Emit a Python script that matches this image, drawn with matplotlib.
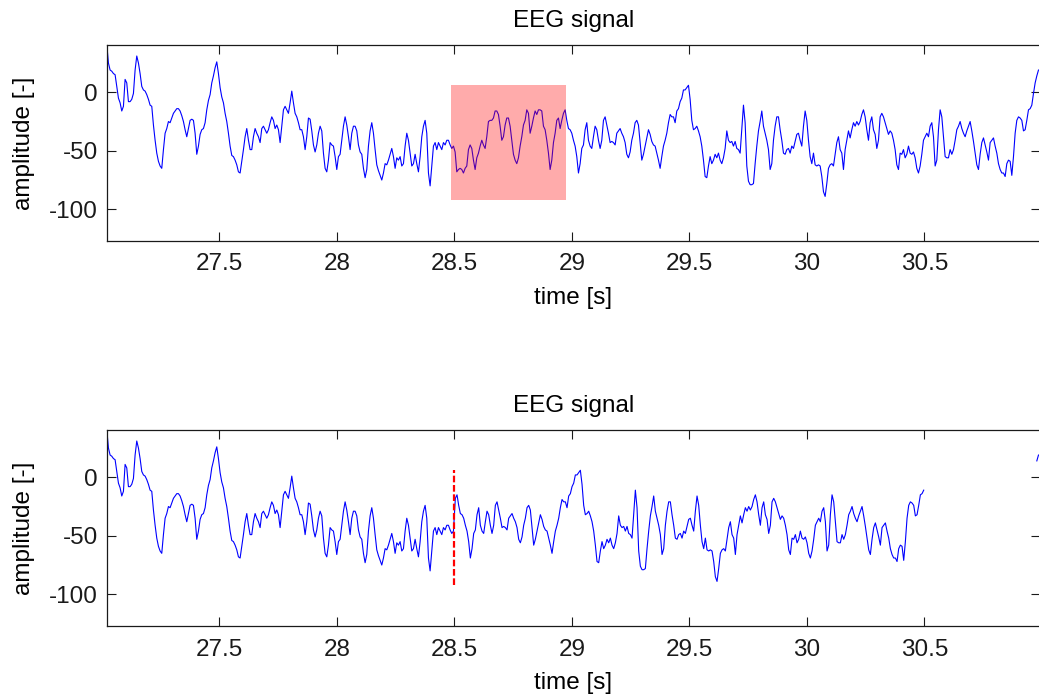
import numpy as np
import matplotlib
matplotlib.use("Agg")
import matplotlib.pyplot as plt
from matplotlib.patches import Rectangle

# Recording: sampling rate [Hz] and time of the first sample [s]
FS = 141.0
T0 = 27.021

# EEG amplitude samples, in consecutive blocks
amp_a = [41, 25, 19, 18, 16, 15, 5, -5, -9, -16,
         -12, 11, 8, -8, -8, -6, -1, 19, 31, 25,
         16, 5, 2, 1, -2, -6, -11, -12, -28, -41,
         -52, -59, -63, -65, -49, -35, -31, -25, -26, -22,
         -18, -16, -14, -14, -16, -20, -25, -32, -38, -31,
         -24, -23, -24, -35, -53, -46, -36, -32, -31, -26,
         -15, -7, -2, 8, 14, 21, 26, 16, 4, -4,
         -9, -18, -25, -35, -46, -54, -55, -58, -62, -68,
         -69, -59, -49, -38, -31, -41, -49, -49, -38, -31,
         -35, -38, -43, -31, -29, -32, -35, -32, -26, -21,
         -24, -31, -28, -32, -43, -29, -15, -12, -15, -18,
         -9, 1, -9, -18, -21, -26, -32, -32, -38, -49,
         -38, -22, -23, -33, -45, -51, -45, -35, -29, -33,
         -52, -65, -68, -58]
amp_b = [-43, -45, -46, -55, -66, -55, -53, -41, -29, -21,
         -28, -38, -49, -35, -29, -29, -33, -45, -51, -53,
         -65, -73, -66, -46, -33, -26, -35, -49, -62, -67,
         -71, -75, -69, -61, -62, -58, -53, -48, -55, -65,
         -56, -58, -55, -63, -61, -46, -35, -41, -52, -63,
         -61, -53, -61, -68, -55, -38, -29, -24, -35, -69,
         -80, -63, -46, -43, -49, -43, -46, -49, -43, -45,
         -41, -41, -45, -48, -46, -51, -68, -66, -65, -66,
         -69, -65, -63, -49, -45, -48, -58, -66, -56, -52,
         -46, -41, -45, -48, -38, -25, -24, -24, -22, -16,
         -16, -19, -29, -41, -38, -28, -22, -22, -29, -41,
         -53, -58, -61, -56, -46, -38, -28, -24, -15, -18,
         -35, -29, -22, -16, -19, -15, -15, -16, -29, -32,
         -41, -52, -66, -58, -43, -35, -24, -22]
amp_c = [-31, -24, -18, -15, -24, -31, -32, -35, -41, -46,
         -55, -69, -61, -48, -45, -32, -26, -41, -46, -48,
         -38, -29, -32, -41, -48, -41, -24, -21, -28, -35,
         -43, -42, -43, -45, -35, -33, -31, -35, -38, -43,
         -53, -56, -51, -41, -35, -26, -24, -28, -43, -58,
         -53, -46, -39, -32, -36, -42, -45, -46, -52, -58,
         -65, -55, -46, -41, -35, -26, -19, -21, -21, -26,
         -16, -14, -8, -5, 2, 2, 4, 6, -6, -24,
         -32, -31, -29, -33, -38, -46, -58, -72, -73, -63,
         -55, -61, -58, -53, -56, -52, -58, -61, -56, -48,
         -33, -41, -43, -42, -46, -42, -48, -49, -52, -32,
         -11, -26, -63, -76, -79, -79, -78, -61, -46, -33,
         -25, -16, -29, -35, -41, -49, -66, -61, -41, -29,
         -21, -21, -32, -41, -52, -53, -49, -48]
amp_d = [-52, -46, -48, -42, -36, -35, -41, -46, -29, -16,
         -24, -41, -55, -61, -52, -62, -63, -62, -63, -72,
         -85, -89, -78, -65, -62, -61, -63, -53, -43, -38,
         -49, -52, -66, -49, -41, -33, -39, -32, -26, -29,
         -25, -28, -25, -19, -15, -21, -32, -41, -26, -21,
         -32, -36, -48, -41, -21, -18, -21, -26, -31, -36,
         -33, -35, -41, -49, -62, -66, -52, -53, -49, -56,
         -53, -46, -52, -53, -51, -56, -65, -69, -63, -53,
         -41, -38, -35, -38, -29, -26, -38, -63, -58, -32,
         -15, -21, -38, -55, -56, -56, -49, -53, -49, -41,
         -32, -29, -25, -31, -35, -38, -33, -29, -25, -33,
         -42, -52, -62, -66, -53, -43, -39, -45, -51, -58,
         -43, -41, -39, -46, -52, -61, -66, -69, -69, -72,
         -61, -58, -59, -71, -55, -35, -24, -21, -22, -24,
         -33, -32, -24, -15, -14, -11, -1, 8, 14, 19]

# Axis ticks
xticks = [27.5, 28, 28.5, 29, 29.5, 30, 30.5]
xtick_labels = ["27.5", "28", "28.5", "29", "29.5", "30", "30.5"]
yticks = [-100, -50, 0]
ytick_labels = ["-100", "-50", "0"]
xlim = (27.022, 30.992)
ylim = (-127.1, 40.4)

# Highlighted window in the upper panel
sel_start, sel_end = 28.486, 28.975
sel_low, sel_high = -92, 6

# Excised segment; the rest of the signal is spliced back at cut_start
cut_start, cut_end = 28.5, 28.96
splice_stop = 30.96
tail_start = 30.975

amp = np.array(amp_a + amp_b + amp_c + amp_d, dtype=float)
t = T0 + np.arange(amp.size) / FS

pre = t < cut_start
post = (t >= cut_end) & (t <= splice_stop)
t_spliced = np.concatenate([t[pre], t[post] - (cut_end - cut_start)])
a_spliced = np.concatenate([amp[pre], amp[post]])
tail = t >= tail_start

plt.rcParams["font.family"] = ["Liberation Sans", "DejaVu Sans"]
FS_TXT = 17.5

W, H = 1039, 697
fig = plt.figure(figsize=(W / 100, H / 100), dpi=100)


def axes_px(left, top, right, bottom):
    return fig.add_axes([left / W, 1 - bottom / H, (right - left) / W, (bottom - top) / H])


def style(ax):
    ax.set_xlim(*xlim)
    ax.set_ylim(*ylim)
    ax.set_xticks(xticks)
    ax.set_xticklabels(xtick_labels)
    ax.set_yticks(yticks)
    ax.set_yticklabels(ytick_labels)
    ax.tick_params(direction="in", top=True, right=True, length=6.5, width=0.8,
                   labelsize=FS_TXT, colors="#1a1a1a")
    ax.tick_params(axis="x", pad=9)
    ax.tick_params(axis="y", pad=6.5)
    for sp in ax.spines.values():
        sp.set_linewidth(0.9)
        sp.set_color("#1a1a1a")
    ax.set_title("EEG signal", fontsize=FS_TXT, pad=13)
    ax.set_xlabel("time [s]", fontsize=FS_TXT, labelpad=8)
    ax.set_ylabel("amplitude [-]", fontsize=FS_TXT, labelpad=10)


ax1 = axes_px(107, 45, 1040, 241)
ax1.plot(t, amp, color=(0, 0, 1), lw=0.8, zorder=2)
ax1.add_patch(Rectangle((sel_start, sel_low), sel_end - sel_start, sel_high - sel_low,
                        facecolor="red", alpha=0.33, edgecolor="none", zorder=3))
style(ax1)

ax2 = axes_px(107, 430, 1040, 626)
ax2.plot(t_spliced, a_spliced, color=(0, 0, 1), lw=0.8, zorder=2)
ax2.plot(t[tail], amp[tail], color=(0, 0, 1), lw=0.8, zorder=2)
ax2.plot([cut_start, cut_start], [sel_low, sel_high], color="red", lw=1.6,
         linestyle=(0, (3, 1.2)), zorder=3)
style(ax2)

fig.savefig("out.png", dpi=100)
